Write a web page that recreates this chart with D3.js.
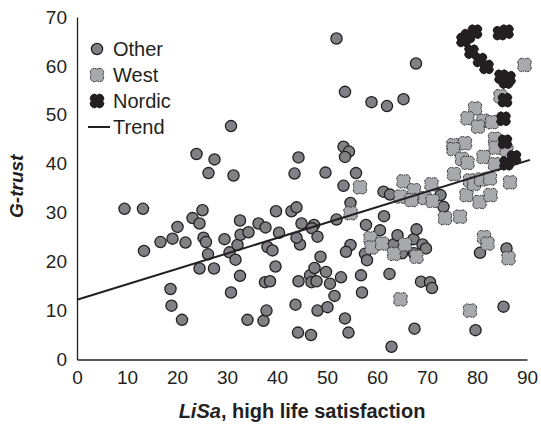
<!DOCTYPE html>
<html>
<head>
<meta charset="utf-8">
<script src="https://cdn.jsdelivr.net/npm/d3@7"></script>
<style>
  body { margin: 0; background: #fff; }
  text { font-family: "Liberation Sans", Arial, sans-serif; fill: #231f20; }
</style>
</head>
<body>
<div id="chart"></div>
<script>
// G-trust vs LiSa
const otherX = [9.5, 13.2, 13.4, 16.7, 18.7, 18.9, 19.1, 20.1, 21.0, 21.7, 23.1, 23.9, 24.5, 24.5, 25.1, 25.3,
  25.8, 26.2, 26.3, 27.4, 27.5, 29.5, 30.5, 30.8, 30.8, 31.3, 31.7, 32.1, 32.6, 32.7, 32.6, 34.3, 34.1,
  37.3, 37.9, 37.6, 38.6, 39.7, 38.1, 39.1, 36.3, 37.7, 40.4, 39.8, 42.9, 43.9, 43.5, 44.3, 44.3, 43.7,
  44.2, 44.6, 43.9, 44.9, 47.4, 47.0, 46.6, 47.5, 46.9, 47.9, 46.8, 48.1, 48.1, 50.1, 48.7, 49.8, 50.6,
  51.5, 52.8, 51.9, 49.7, 51.9, 53.3, 54.4, 53.6, 53.6, 53.3, 54.7, 54.7, 53.8, 53.6, 54.3, 55.8, 56.8,
  57.0, 57.6, 58.0, 57.8, 58.9, 62.0, 65.3, 60.6, 61.4, 61.3, 62.6, 62.5, 62.9, 63.3, 64.1, 65.0, 67.3,
  67.4, 67.9, 69.1, 69.8, 67.8, 68.8, 70.6, 71.0, 67.5, 72.7, 73.3, 80.6, 85.9, 85.3, 79.7];
const otherY = [30.8, 30.8, 22.2, 24.0, 14.4, 11.0, 24.7, 27.1, 8.1, 23.9, 28.9, 42.0, 27.8, 18.6, 30.5, 24.9,
  24.0, 21.5, 38.1, 18.6, 40.9, 24.6, 21.9, 47.7, 13.7, 37.6, 20.4, 23.4, 28.4, 25.5, 17.1, 26.0, 8.1,
  7.9, 10.0, 15.8, 16.0, 19.0, 23.0, 22.3, 27.8, 27.0, 25.9, 30.3, 30.3, 31.1, 38.0, 41.3, 16.0, 11.2,
  5.5, 23.5, 24.9, 27.8, 27.5, 26.8, 17.2, 18.7, 15.8, 16.0, 5.0, 25.1, 10.0, 10.7, 21.0, 17.9, 15.5,
  13.0, 16.8, 28.6, 38.2, 65.6, 43.5, 42.5, 41.4, 54.7, 35.5, 32.0, 23.4, 22.0, 8.4, 5.5, 38.1, 17.2,
  13.7, 21.6, 20.3, 27.5, 52.6, 51.8, 53.2, 26.4, 29.3, 34.3, 33.7, 17.5, 2.6, 23.5, 25.4, 21.7, 24.6,
  21.7, 26.6, 23.5, 22.7, 60.5, 15.9, 15.8, 14.6, 6.3, 33.6, 31.2, 21.8, 22.7, 10.8, 6.0];

const westX = [56.6, 54.7, 58.7, 58.9, 61.0, 63.4, 65.6, 67.9, 64.7, 65.3, 64.7, 67.4, 66.9, 69.6, 71.1, 70.9,
  73.6, 76.6, 75.4, 77.9, 80.5, 82.7, 86.6, 78.6, 79.4, 80.8, 82.6, 81.4, 82.1, 86.3, 78.6, 89.5, 84.7,
  79.6, 78.1, 81.3, 83.0, 80.2, 75.3, 77.6, 75.3, 83.6, 83.7, 85.9, 77.0, 78.1, 81.3, 83.6];
const westY = [35.2, 29.9, 24.8, 22.9, 23.7, 21.6, 23.5, 21.0, 12.3, 36.4, 33.3, 34.6, 32.6, 33.0, 32.4, 35.8,
  28.9, 29.2, 37.9, 33.6, 32.2, 33.6, 36.2, 36.6, 35.9, 36.8, 37.0, 25.0, 23.7, 20.7, 10.0, 60.2, 53.8,
  51.3, 49.3, 48.8, 48.5, 47.6, 43.8, 44.2, 43.0, 45.1, 43.3, 42.8, 41.0, 40.2, 41.4, 39.9];

const nordicX = [77.3, 78.2, 79.6, 78.9, 80.6, 81.9, 84.6, 85.9, 84.9, 86.3, 85.8, 85.6, 85.3, 85.6, 87.4, 85.9];
const nordicY = [65.3, 66.1, 67.0, 62.9, 61.2, 59.8, 66.7, 67.0, 57.8, 57.5, 56.8, 53.0, 49.2, 44.5, 41.3, 40.1];

const trendX = [0, 90.6];
const trendY = [12.2, 40.8];

const xTicks = [0, 10, 20, 30, 40, 50, 60, 70, 80, 90];
const yTicks = [0, 10, 20, 30, 40, 50, 60, 70];
const legendNames = ["Other", "West", "Nordic", "Trend"];

const width = 541,
  height = 426;
const margin = { top: 17, right: 14, bottom: 66.5, left: 77 };

const svg = d3
  .select("#chart")
  .append("svg")
  .attr("width", width)
  .attr("height", height);

const x = d3.scaleLinear().domain([0, 90]).range([margin.left, width - margin.right]);
const y = d3.scaleLinear().domain([0, 70]).range([height - margin.bottom, margin.top]);

// quatrefoil-like marker used for West / Nordic
function clover(a, r) {
  const s = Math.sqrt(r * r - a * a),
    e = a + s;
  return (
    "M" + e + ",0" +
    "A" + r + "," + r + " 0 0 1 0," + e +
    "A" + r + "," + r + " 0 0 1 " + -e + ",0" +
    "A" + r + "," + r + " 0 0 1 0," + -e +
    "A" + r + "," + r + " 0 0 1 " + e + ",0Z"
  );
}
const cloverPath = clover(2.7, 4);

const xAxis = (g) =>
  g
    .attr("transform", "translate(0," + y(0) + ")")
    .call(d3.axisBottom(x).tickValues(xTicks).tickSize(0).tickPadding(11))
    .call((g) => g.select(".domain").attr("stroke", "#231f20").attr("stroke-width", 1.3))
    .call((g) =>
      g.selectAll("text").attr("font-size", 19).attr("fill", "#231f20")
        .style("font-family", '"Liberation Sans", Arial, sans-serif')
    );
const yAxis = (g) =>
  g
    .attr("transform", "translate(" + x(0) + ",0)")
    .call(d3.axisLeft(y).tickValues(yTicks).tickSize(0).tickPadding(10))
    .call((g) => g.select(".domain").attr("stroke", "#231f20").attr("stroke-width", 1.3))
    .call((g) =>
      g.selectAll("text").attr("font-size", 19).attr("fill", "#231f20")
        .style("font-family", '"Liberation Sans", Arial, sans-serif')
    );

svg.append("g").attr("class", "x-axis").call(xAxis);
svg.append("g").attr("class", "y-axis").call(yAxis);

// points
svg
  .append("g")
  .attr("class", "other")
  .selectAll("circle")
  .data(otherX.map((v, i) => [v, otherY[i]]))
  .join("circle")
  .attr("cx", (d) => x(d[0]))
  .attr("cy", (d) => y(d[1]))
  .attr("r", 5.6)
  .attr("fill", "#808184")
  .attr("stroke", "#231f20")
  .attr("stroke-width", 1.3);

svg
  .append("g")
  .attr("class", "west")
  .selectAll("path")
  .data(westX.map((v, i) => [v, westY[i]]))
  .join("path")
  .attr("d", cloverPath)
  .attr("transform", (d) => "translate(" + x(d[0]) + "," + y(d[1]) + ")")
  .attr("fill", "#a7a9ac")
  .attr("stroke", "#231f20")
  .attr("stroke-width", 1)
  .attr("stroke-dasharray", "1.6,0.8");

svg
  .append("g")
  .attr("class", "nordic")
  .selectAll("path")
  .data(nordicX.map((v, i) => [v, nordicY[i]]))
  .join("path")
  .attr("d", cloverPath)
  .attr("transform", (d) => "translate(" + x(d[0]) + "," + y(d[1]) + ")")
  .attr("fill", "#231f20")
  .attr("stroke", "#231f20")
  .attr("stroke-width", 1);

svg
  .append("line")
  .attr("x1", x(trendX[0]))
  .attr("y1", y(trendY[0]))
  .attr("x2", x(trendX[1]))
  .attr("y2", y(trendY[1]))
  .attr("stroke", "#231f20")
  .attr("stroke-width", 2);

// legend
const legend = svg.append("g").attr("class", "legend");
legendNames.forEach((name, i) => {
  const ly = 49 + i * 26;
  if (name === "Other") {
    legend.append("circle").attr("cx", 97).attr("cy", ly).attr("r", 5.6)
      .attr("fill", "#808184").attr("stroke", "#231f20").attr("stroke-width", 1.3);
  } else if (name === "Trend") {
    legend.append("line").attr("x1", 88).attr("x2", 110).attr("y1", ly).attr("y2", ly)
      .attr("stroke", "#231f20").attr("stroke-width", 2);
  } else {
    legend.append("path").attr("d", cloverPath)
      .attr("transform", "translate(97," + ly + ")")
      .attr("fill", name === "West" ? "#a7a9ac" : "#231f20")
      .attr("stroke", "#231f20").attr("stroke-width", 1)
      .attr("stroke-dasharray", name === "West" ? "1.6,0.8" : null);
  }
  legend.append("text").attr("x", 113).attr("y", ly).attr("dy", "0.35em")
    .attr("font-size", 20).text(name);
});

// axis titles
const xt = svg.append("text")
  .attr("x", (x(0) + x(90)) / 2)
  .attr("y", 418)
  .attr("text-anchor", "middle")
  .attr("font-size", 20)
  .attr("font-weight", "bold");
xt.append("tspan").attr("font-style", "italic").text("LiSa");
xt.append("tspan").text(", high life satisfaction");

svg.append("text")
  .attr("transform", "translate(23," + (y(35) - 2) + ") rotate(-90)")
  .attr("text-anchor", "middle")
  .attr("font-size", 19)
  .attr("font-weight", "bold")
  .attr("font-style", "italic")
  .text("G-trust");
</script>
</body>
</html>
